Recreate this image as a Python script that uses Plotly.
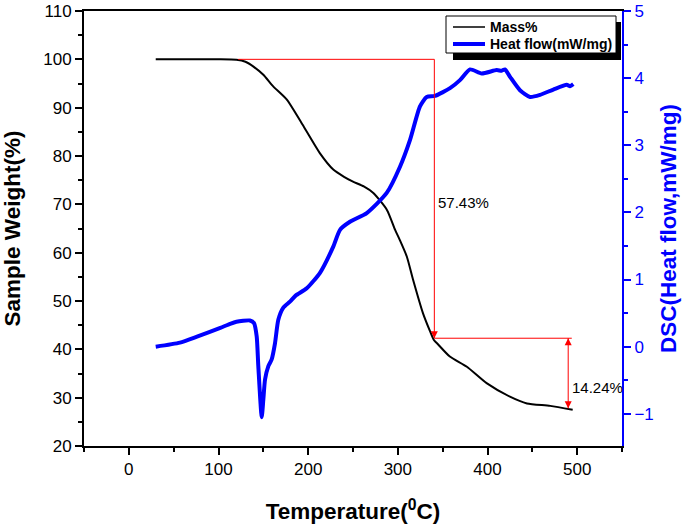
import plotly.graph_objects as go
from plotly.subplots import make_subplots

# ---- data ----
mass_T = [30, 60, 100, 120, 130, 139, 150, 161, 176, 195, 213, 228, 240, 250, 262,
          273, 288, 297, 302, 310, 317, 328, 336, 340, 345, 358, 377, 399, 425, 444, 470, 495]
mass_pct = [100, 100, 100, 99.9, 99.5, 98.5, 96.8, 94.4, 91.7, 86.1, 80.6, 77.2, 75.7, 74.7, 73.7,
            72.3, 68.8, 64.7, 62.7, 59.2, 54.4, 47.5, 43.7, 42.0, 41.0, 38.5, 36.4, 33.0, 30.2, 28.8, 28.3, 27.5]

dsc_T = [30, 57, 76, 102, 113, 120, 135, 139.6, 142.6, 144.4, 148.2, 150, 151.9, 155.6, 159.3,
         163, 166.7, 172.3, 179.7, 186, 198.4, 213.2, 228, 235.5, 246.6, 265.3, 287.6, 302.4,
         313.6, 324.7, 332.2, 341.4, 358.2, 369.3, 380.5, 393.5, 410.2, 415.8, 419.5, 425.1,
         436.2, 447.4, 458.6, 473.4, 488.3, 492, 495.7]
dsc_hf = [0.0, 0.06, 0.15, 0.28, 0.34, 0.37, 0.39, 0.35, 0.15, -0.29, -1.05, -0.79, -0.49, -0.29, -0.19,
          0.05, 0.40, 0.58, 0.67, 0.76, 0.87, 1.10, 1.49, 1.74, 1.86, 1.99, 2.29, 2.68,
          3.08, 3.58, 3.72, 3.735, 3.85, 3.97, 4.13, 4.07, 4.12, 4.11, 4.13, 4.02,
          3.82, 3.72, 3.75, 3.83, 3.90, 3.88, 3.91]

series_names = ["Mass%", "Heat flow(mW/mg)"]

# annotation values (data units)
start_T, start_mass = 122, 100.0
step1_T, step1_mass = 340.7, 42.3
end_T, end_mass = 490, 27.8
label1, label1_y = "57.43%", 70.3
label2, label2_y = "14.24%", 32.2

FONT = "Arial, 'Liberation Sans', sans-serif"
BLUE = "#0000ff"
RED = "#ff0000"

# plot area in page pixels
W, H = 685, 530
PL, PR, PT, PB = 84, 622, 11, 446
PW, PH = PR - PL, PB - PT


def px(xp):
    return (xp - PL) / PW


def py(yp):
    return (PB - yp) / PH


fig = make_subplots(specs=[[{"secondary_y": True}]])

fig.add_trace(go.Scatter(x=mass_T, y=mass_pct, mode="lines", name=series_names[0],
                         line=dict(color="black", width=2, shape="spline", smoothing=0.6),
                         showlegend=False),
              secondary_y=False)
fig.add_trace(go.Scatter(x=dsc_T, y=dsc_hf, mode="lines", name=series_names[1],
                         line=dict(color=BLUE, width=4, shape="spline", smoothing=0.6),
                         showlegend=False),
              secondary_y=True)

# red guide lines
line_style = dict(color=RED, width=1)
fig.add_shape(type="line", xref="x", yref="y", x0=start_T, x1=step1_T, y0=start_mass, y1=start_mass, line=line_style)
fig.add_shape(type="line", xref="x", yref="y", x0=step1_T, x1=end_T + 4, y0=step1_mass, y1=step1_mass, line=line_style)
fig.add_shape(type="line", xref="x", yref="y", x0=step1_T, x1=step1_T, y0=start_mass, y1=step1_mass, line=line_style)
fig.add_shape(type="line", xref="x", yref="y", x0=end_T, x1=end_T, y0=step1_mass, y1=end_mass, line=line_style)

# arrowheads (tip at data point)
fig.add_trace(go.Scatter(x=[step1_T, end_T], y=[step1_mass, end_mass], mode="markers",
                         marker=dict(symbol="arrow-down", size=7, color=RED, line=dict(width=0)),
                         showlegend=False, hoverinfo="skip"), secondary_y=False)
fig.add_trace(go.Scatter(x=[end_T], y=[step1_mass], mode="markers",
                         marker=dict(symbol="arrow-up", size=7, color=RED, line=dict(width=0)),
                         showlegend=False, hoverinfo="skip"), secondary_y=False)

fig.add_annotation(x=step1_T + 1.5, y=label1_y, xref="x", yref="y", text=label1, showarrow=False,
                   xanchor="left", yanchor="middle", font=dict(family=FONT, size=15, color="black"))
fig.add_annotation(x=end_T + 1.5, y=label2_y, xref="x", yref="y", text=label2, showarrow=False,
                   xanchor="left", yanchor="middle", font=dict(family=FONT, size=15, color="black"))

# legend box (shadow + frame + samples + labels)
fig.add_shape(type="rect", xref="paper", yref="paper",
              x0=px(453), x1=px(621), y0=py(60), y1=py(22),
              fillcolor="black", line=dict(width=0), layer="above")
fig.add_shape(type="rect", xref="paper", yref="paper",
              x0=px(446), x1=px(616), y0=py(53), y1=py(16),
              fillcolor="white", line=dict(color="black", width=1), layer="above")
fig.add_shape(type="line", xref="paper", yref="paper",
              x0=px(453), x1=px(485), y0=py(27), y1=py(27),
              line=dict(color="black", width=1.5), layer="above")
fig.add_shape(type="line", xref="paper", yref="paper",
              x0=px(453), x1=px(485), y0=py(44), y1=py(44),
              line=dict(color=BLUE, width=4), layer="above")
for name, yp in zip(series_names, [27, 44]):
    fig.add_annotation(x=px(488), y=py(yp), xref="paper", yref="paper", text=name,
                       showarrow=False, xanchor="left", yanchor="middle",
                       font=dict(family=FONT, size=14, color="black", weight="bold"))

fig.update_layout(
    width=W, height=H, autosize=False,
    margin=dict(l=PL, r=W - PR, t=PT, b=H - PB),
    paper_bgcolor="white", plot_bgcolor="white",
    font=dict(family=FONT, size=17, color="black"),
    showlegend=False,
)

fig.update_xaxes(
    domain=[0, 1],
    range=[-50, 550], tickmode="linear", tick0=0, dtick=100, automargin=False,
    showgrid=False, zeroline=False,
    showline=True, linecolor="black", linewidth=2, mirror=True,
    ticks="outside", ticklen=7, tickwidth=1.5, tickcolor="black",
    minor=dict(ticks="outside", ticklen=4, dtick=50, tick0=0, tickcolor="black", showgrid=False),
    tickfont=dict(family=FONT, size=17, color="black"),
    title=dict(text="Temperature(<sup>0</sup>C)", standoff=25,
               font=dict(family=FONT, size=22.5, color="black", weight="bold")),
)
fig.update_yaxes(
    range=[20, 110], tickmode="linear", tick0=20, dtick=10, automargin=False,
    showgrid=False, zeroline=False,
    showline=True, linecolor="black", linewidth=2,
    ticks="outside", ticklen=7, tickwidth=1.5, tickcolor="black",
    minor=dict(ticks="outside", ticklen=4, dtick=5, tick0=20, tickcolor="black", showgrid=False),
    tickfont=dict(family=FONT, size=17, color="black"),
    title=dict(text="Sample Weight(%)", standoff=25,
               font=dict(family=FONT, size=22.5, color="black", weight="bold")),
    secondary_y=False,
)
fig.update_yaxes(
    range=[-1.48, 5], tickmode="linear", tick0=0, dtick=1, automargin=False,
    showgrid=False, zeroline=False,
    showline=True, linecolor=BLUE, linewidth=2,
    ticks="outside", ticklen=7, tickwidth=1.5, tickcolor=BLUE,
    minor=dict(ticks="outside", ticklen=4, dtick=0.5, tick0=0, tickcolor=BLUE, showgrid=False),
    tickfont=dict(family=FONT, size=17, color=BLUE),
    title=dict(text="DSC(Heat flow,mW/mg)", standoff=7,
               font=dict(family=FONT, size=22.5, color=BLUE, weight="bold")),
    secondary_y=True,
)

fig.write_html("out.html", config={"displayModeBar": False},
               post_script="document.body.style.margin='0px';")
